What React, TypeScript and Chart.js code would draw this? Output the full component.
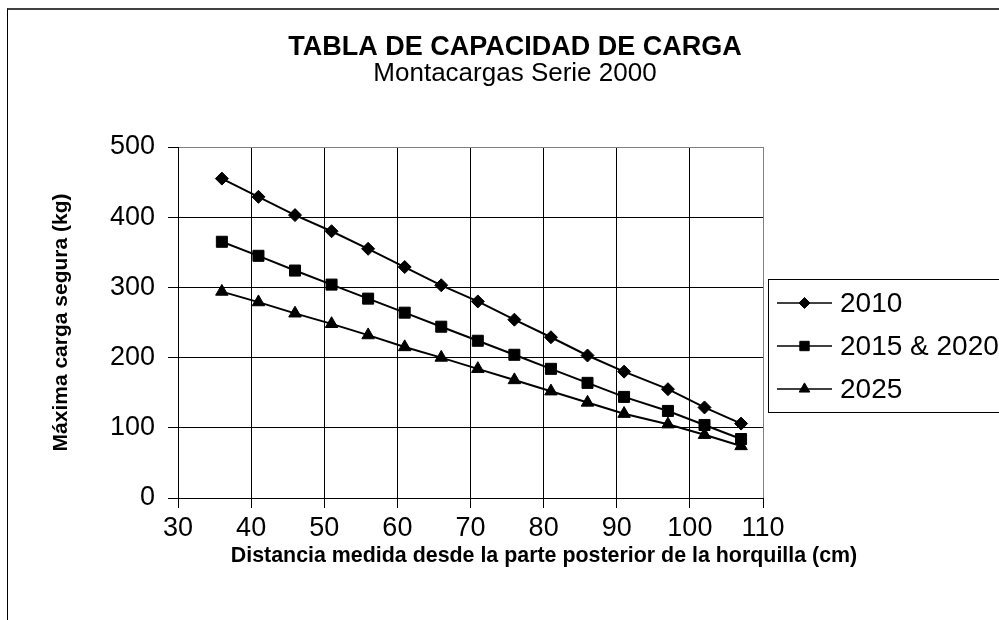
import React, { useEffect, useRef } from "react";
import { Chart, registerables } from "chart.js";
import { drawPoint } from "chart.js/helpers";

Chart.register(...registerables);

// ---- data ----
const distances = [36, 41, 46, 51, 56, 61, 66, 71, 76, 81, 86, 91, 97, 102, 107];
const carga2010 = [455, 429, 403, 380, 355, 329, 303, 280, 254, 229, 203, 180, 155, 129, 106];
const carga2015y2020 = [365, 345, 324, 304, 284, 264, 244, 224, 204, 184, 164, 144, 124, 104, 84];
const carga2025 = [294, 279, 263, 248, 232, 215, 200, 184, 168, 152, 136, 120, 105, 90, 74];
const seriesNames = ["2010", "2015 & 2020", "2025"];
const xRange = [30, 110];
const xStep = 10;
const yRange = [0, 500];
const yStep = 100;
const titleText = "TABLA DE CAPACIDAD DE CARGA";
const subtitleText = "Montacargas Serie 2000";
const xTitleText = "Distancia medida desde la parte posterior de la horquilla (cm)";
const yTitleText = "Máxima carga segura (kg)";

const FONT = "'Liberation Sans', Arial, Helvetica, sans-serif";

const pointStyles = ["rectRot", "rect", "triangle"];
const pointRadii = [6.5, 7.8, 7.2];

const headerPlugin = {
  id: "excelHeader",
  afterDraw(chart: any) {
    const ctx = chart.ctx;
    ctx.save();
    ctx.fillStyle = "#000";
    ctx.textAlign = "center";
    ctx.textBaseline = "middle";
    ctx.font = `bold 27px ${FONT}`;
    ctx.fillText(titleText, 507, 38);
    ctx.font = `26px ${FONT}`;
    ctx.fillText(subtitleText, 507, 64);
    // x axis title (offset to the right as in the original)
    ctx.font = `bold 21.4px ${FONT}`;
    ctx.fillText(xTitleText, 536, 546);
    ctx.restore();
  },
};

const legendPlugin = {
  id: "excelLegend",
  afterDraw(chart: any) {
    const ctx = chart.ctx;
    const boxLeft = chart.chartArea.right + 5;
    const boxTop = 269;
    const boxHeight = 133;
    ctx.save();
    ctx.fillStyle = "#fff";
    ctx.fillRect(boxLeft, boxTop, 400, boxHeight);
    ctx.strokeStyle = "#000";
    ctx.lineWidth = 1;
    ctx.strokeRect(boxLeft + 0.5, boxTop + 0.5, 400, boxHeight);
    chart.data.datasets.forEach((ds: any, i: number) => {
      const y = boxTop + 24 + i * 43;
      const x0 = boxLeft + 9;
      const x1 = boxLeft + 64;
      ctx.strokeStyle = ds.borderColor;
      ctx.lineWidth = 1.5;
      ctx.beginPath();
      ctx.moveTo(x0, y);
      ctx.lineTo(x1, y);
      ctx.stroke();
      ctx.fillStyle = ds.backgroundColor;
      ctx.strokeStyle = ds.borderColor;
      ctx.lineWidth = 1;
      drawPoint(ctx, { pointStyle: ds.pointStyle, radius: ds.pointRadius * 0.85, borderWidth: 1, rotation: 0 } as any, (x0 + x1) / 2, y);
      ctx.fillStyle = "#000";
      ctx.font = `28px ${FONT}`;
      ctx.textAlign = "left";
      ctx.textBaseline = "middle";
      ctx.fillText(ds.label, boxLeft + 72, y + 1);
    });
    ctx.restore();
  },
};

function makeDataset(label: string, values: number[], i: number) {
  return {
    label,
    data: distances.map((x, k) => ({ x, y: values[k] })),
    borderColor: "#000",
    backgroundColor: "#000",
    borderWidth: 2,
    pointStyle: pointStyles[i],
    pointRadius: pointRadii[i],
    pointBorderWidth: 1,
    pointBackgroundColor: "#000",
    pointBorderColor: "#000",
    tension: 0,
    fill: false,
  };
}

export default function App() {
  const canvasRef = useRef<HTMLCanvasElement | null>(null);

  useEffect(() => {
    if (!canvasRef.current) return;
    const chart = new Chart(canvasRef.current, {
      type: "line",
      data: {
        datasets: [
          makeDataset(seriesNames[0], carga2010, 0),
          makeDataset(seriesNames[1], carga2015y2020, 1),
          makeDataset(seriesNames[2], carga2025, 2),
        ],
      },
      options: {
        animation: false,
        responsive: true,
        maintainAspectRatio: false,
        events: [],
        layout: { padding: { top: 137, right: 236, bottom: 0, left: 0 } },
        plugins: {
          legend: { display: false },
          title: { display: false },
          tooltip: { enabled: false },
        },
        scales: {
          x: {
            type: "linear",
            min: xRange[0],
            max: xRange[1],
            afterFit(scale: any) {
              scale.height = 122;
            },
            ticks: {
              stepSize: xStep,
              color: "#000",
              font: { family: FONT, size: 27 },
              padding: 4,
              maxRotation: 0,
            },
            grid: {
              color: (c: any) => (c.tick && c.tick.value === xRange[1] ? "#808080" : "#000"),
              lineWidth: 1,
              tickLength: 10,
              tickColor: "#000",
            },
            border: { color: "#000", width: 1 },
            title: { display: false },
          },
          y: {
            type: "linear",
            min: yRange[0],
            max: yRange[1],
            afterFit(scale: any) {
              scale.width = 170;
            },
            ticks: {
              stepSize: yStep,
              color: "#000",
              font: { family: FONT, size: 27 },
              padding: 13,
            },
            grid: {
              color: (c: any) => (c.tick && c.tick.value === yRange[1] ? "#808080" : "#000"),
              lineWidth: 1,
              tickLength: 10,
              tickColor: "#000",
            },
            border: { color: "#000", width: 1 },
            title: {
              display: true,
              text: yTitleText,
              color: "#000",
              font: { family: FONT, size: 21, weight: "bold" },
              padding: { top: 41, bottom: 0 },
            },
          },
        },
      } as any,
      plugins: [headerPlugin, legendPlugin],
    });
    return () => chart.destroy();
  }, []);

  return (
    <div
      style={{
        position: "fixed",
        left: 7,
        top: 8,
        width: 992,
        height: 612,
        boxSizing: "border-box",
        borderTop: "2px solid #404040",
        borderLeft: "1px solid #000",
        background: "#fff",
      }}
    >
      <canvas ref={canvasRef} />
    </div>
  );
}
